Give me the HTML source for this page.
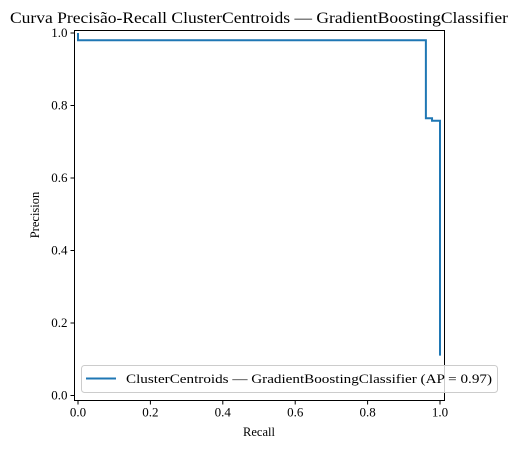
<!DOCTYPE html>
<html><head><meta charset="utf-8"><style>
body{margin:0;background:#fff}
svg{display:block;font-family:"Liberation Serif",serif}
</style></head><body>
<svg width="518" height="449">
<text x="10" y="23" font-size="15.5" textLength="498" lengthAdjust="spacingAndGlyphs">Curva Precisão-Recall ClusterCentroids — GradientBoostingClassifier</text>
<g id="axes"></g>
<text x="259" y="436" font-size="12.5" text-anchor="middle">Recall</text>
<text x="39" y="215" font-size="12.5" text-anchor="middle" transform="rotate(-90 39 215)">Precision</text>
</svg>
<script>
const recall=[0,0,0.961,0.961,0.978,0.978,1.0,1.0];
const precision=[1.0,0.98,0.98,0.765,0.765,0.758,0.758,0.11];
const xTicks=[0,0.2,0.4,0.6,0.8,1.0];
const yTicks=[0,0.2,0.4,0.6,0.8,1.0];
const L=74.5,R=444.5,T=30.5,B=400.5;
const X=v=>78+v*362, Y=v=>395.5-v*362.5;
const ns="http://www.w3.org/2000/svg", g=document.getElementById('axes');
function mk(t,a,p){const e=document.createElementNS(ns,t);for(const k in a)e.setAttribute(k,a[k]);(p||g).appendChild(e);return e;}
xTicks.forEach(v=>{
 const l=mk('line',{x1:X(v),x2:X(v),y1:B,y2:B+4,stroke:'#000'});
 
 
 const t=mk('text',{x:X(v),y:B+16,'font-size':13,'text-anchor':'middle'});t.textContent=v.toFixed(1);
 
 
});
yTicks.forEach(v=>{
 const l=mk('line',{x1:L-4,x2:L,y1:Y(v),y2:Y(v),stroke:'#000'});
 
 
 const t=mk('text',{x:L-7,y:Y(v)+4,'font-size':13,'text-anchor':'end'});t.textContent=v.toFixed(1);
 
 
});
const pts=recall.map((r,i)=>X(r)+','+Y(precision[i])).join(' ');
const pl=mk('polyline',{points:pts,fill:'none',stroke:'#1f77b4','stroke-width':2});


const fr=mk('rect',{x:L,y:T,width:R-L,height:B-T,fill:'none',stroke:'#000','stroke-width':1});


const lg=mk('g',{});


mk('rect',{x:81.5,y:365.5,width:416,height:27,rx:3,fill:'rgba(255,255,255,0.8)',stroke:'#ccc'},lg);
mk('line',{x1:86,x2:116,y1:378.5,y2:378.5,stroke:'#1f77b4','stroke-width':2},lg);
const lt=mk('text',{x:126,y:383,'font-size':13,textLength:366,lengthAdjust:'spacingAndGlyphs'},lg);
lt.textContent='ClusterCentroids — GradientBoostingClassifier (AP = 0.97)';


</script>
</body></html>
